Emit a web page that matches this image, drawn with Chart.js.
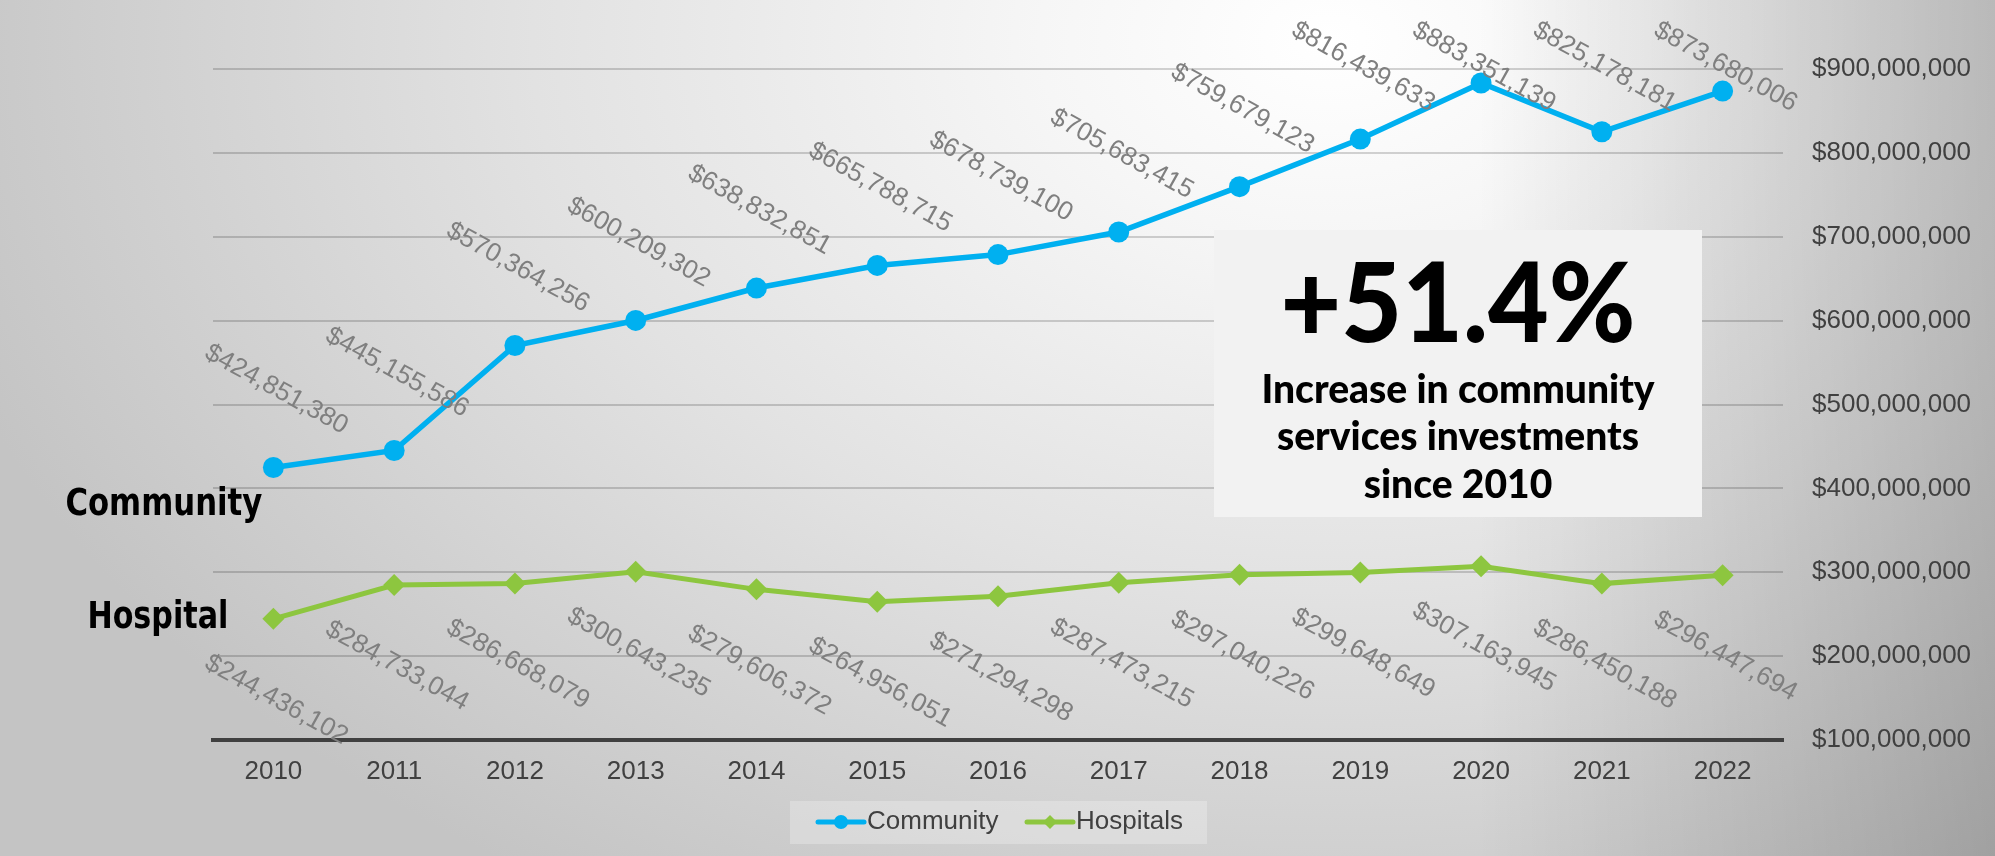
<!DOCTYPE html>
<html>
<head>
<meta charset="utf-8">
<script src="https://cdn.jsdelivr.net/npm/chart.js@4.4.1/dist/chart.umd.min.js"></script>
<style>
html, body { margin: 0; padding: 0; }
body {
    width: 1995px; height: 856px; overflow: hidden;
    background:
        linear-gradient(to right, rgba(0,0,0,0) 74%, rgba(0,0,0,0.2) 100%),
        radial-gradient(ellipse 1450px 1000px at 1330px 40px, #ffffff 0%, #f6f6f6 20%, #e2e2e2 55%, #c4c4c4 100%);
}
#wrap { position: relative; width: 1995px; height: 856px; }
</style>
</head>
<body>
<div id="wrap"><canvas id="graficoInvestimentos"></canvas></div>
<script>
// data
const years = ['2010', '2011', '2012', '2013', '2014', '2015', '2016', '2017', '2018', '2019', '2020', '2021', '2022'];
const community = [424851380, 445155586, 570364256, 600209302, 638832851, 665788715, 678739100,
                   705683415, 759679123, 816439633, 883351139, 825178181, 873680006];
const hospitals = [244436102, 284733044, 286668079, 300643235, 279606372, 264956051, 271294298,
                   287473215, 297040226, 299648649, 307163945, 286450188, 296447694];
const yMin = 100000000;
const yMax = 900000000;
const yStep = 100000000;
const headline = '+51.4%';
const headlineText = ['Increase in community', 'services investments', 'since 2010'];

const money = v => '$' + Number(v).toLocaleString('en-US');
const AXIS_FONT = '"Liberation Sans", Arial, sans-serif';

// rotated value labels on every point (kept inside the top of the picture)
const valueLabels = {
    id: 'valueLabels',
    afterDatasetsDraw(chart) {
        const ctx = chart.ctx;
        ctx.save();
        ctx.font = '26px ' + AXIS_FONT;
        ctx.fillStyle = '#7f7f7f';
        ctx.textAlign = 'center';
        ctx.textBaseline = 'middle';
        chart.data.datasets.forEach((ds, i) => {
            const dy = i === 0 ? -78 : 81;
            chart.getDatasetMeta(i).data.forEach((pt, j) => {
                ctx.save();
                ctx.translate(pt.x + 3, Math.max(pt.y + dy, 67));
                ctx.rotate(29 * Math.PI / 180);
                ctx.fillText(money(ds.data[j]), 0, 0);
                ctx.restore();
            });
        });
        ctx.restore();
    }
};

// series names, call-out box and legend
const extras = {
    id: 'extras',
    afterDraw(chart) {
        const ctx = chart.ctx;
        ctx.save();

        // series names next to the first points
        const p0 = chart.getDatasetMeta(0).data[0];
        const p1 = chart.getDatasetMeta(1).data[0];
        ctx.fillStyle = '#000';
        ctx.textAlign = 'left';
        ctx.textBaseline = 'alphabetic';
        ctx.font = 'bold 37px "DejaVu Sans", sans-serif';
        ctx.fillText('Community', p0.x - 208, p0.y + 47, 197);
        ctx.fillText('Hospital', p1.x - 186, p1.y + 9, 141);

        // call-out box
        ctx.fillStyle = '#f2f2f2';
        ctx.fillRect(1214, 230, 488, 287);
        ctx.fillStyle = '#000';
        ctx.textAlign = 'center';
        ctx.font = '900 110px Lato, "DejaVu Sans", sans-serif';
        ctx.fillText(headline, 1458, 342, 355);
        ctx.font = '900 39px Lato, "DejaVu Sans", sans-serif';
        ctx.fillText(headlineText[0], 1458, 403, 435);
        ctx.fillText(headlineText[1], 1458, 450, 390);
        ctx.fillText(headlineText[2], 1458, 498, 200);

        // legend
        ctx.fillStyle = 'rgba(255,255,255,0.25)';
        ctx.fillRect(790, 801, 417, 43);
        const items = [{ x: 818 }, { x: 1027 }];
        ctx.font = '26px ' + AXIS_FONT;
        ctx.textAlign = 'left';
        ctx.textBaseline = 'middle';
        chart.data.datasets.forEach((ds, i) => {
            const x = items[i].x, y = 822;
            ctx.strokeStyle = ds.borderColor;
            ctx.lineWidth = 5;
            ctx.lineCap = 'round';
            ctx.beginPath();
            ctx.moveTo(x, y);
            ctx.lineTo(x + 46, y);
            ctx.stroke();
            ctx.fillStyle = ds.borderColor;
            ctx.beginPath();
            if (ds.pointStyle === 'circle') {
                ctx.arc(x + 23, y, 7, 0, Math.PI * 2);
            } else {
                ctx.moveTo(x + 23, y - 7);
                ctx.lineTo(x + 30, y);
                ctx.lineTo(x + 23, y + 7);
                ctx.lineTo(x + 16, y);
                ctx.closePath();
            }
            ctx.fill();
            ctx.fillStyle = '#404040';
            ctx.fillText(ds.label, x + 49, y);
        });
        ctx.restore();
    }
};

const ctxInvest = document.getElementById('graficoInvestimentos').getContext('2d');
new Chart(ctxInvest, {
    type: 'line',
    data: {
        labels: years,
        datasets: [{
            label: 'Community',
            data: community,
            borderColor: '#00b0f0',
            backgroundColor: '#00b0f0',
            borderWidth: 5.5,
            pointStyle: 'circle',
            pointRadius: 10.5,
            pointBorderWidth: 0,
            clip: false
        }, {
            label: 'Hospitals',
            data: hospitals,
            borderColor: '#8dc63f',
            backgroundColor: '#8dc63f',
            borderWidth: 5,
            pointStyle: 'rectRot',
            pointRadius: 11,
            pointBorderWidth: 0,
            clip: false
        }]
    },
    options: {
        responsive: true,
        maintainAspectRatio: false,
        animation: false,
        devicePixelRatio: 1,
        layout: { padding: { left: 213, top: 69, right: 24, bottom: 69 } },
        plugins: {
            legend: { display: false },
            tooltip: { enabled: false }
        },
        scales: {
            x: {
                offset: true,
                grid: { display: false, drawTicks: false },
                border: { color: '#404040', width: 4 },
                ticks: { color: '#404040', font: { size: 26, family: AXIS_FONT }, padding: 16, maxRotation: 0 },
                afterFit: scale => { scale.height = 47; }
            },
            y: {
                position: 'right',
                min: yMin,
                max: yMax,
                grid: { color: 'rgba(0,0,0,0.17)', lineWidth: 2, drawTicks: false },
                border: { display: false },
                ticks: {
                    stepSize: yStep,
                    color: '#404040',
                    font: { size: 26, family: AXIS_FONT },
                    padding: 29,
                    callback: v => money(v)
                },
                afterFit: scale => { scale.width = 188; }
            }
        }
    },
    plugins: [valueLabels, extras]
});
</script>
</body>
</html>
